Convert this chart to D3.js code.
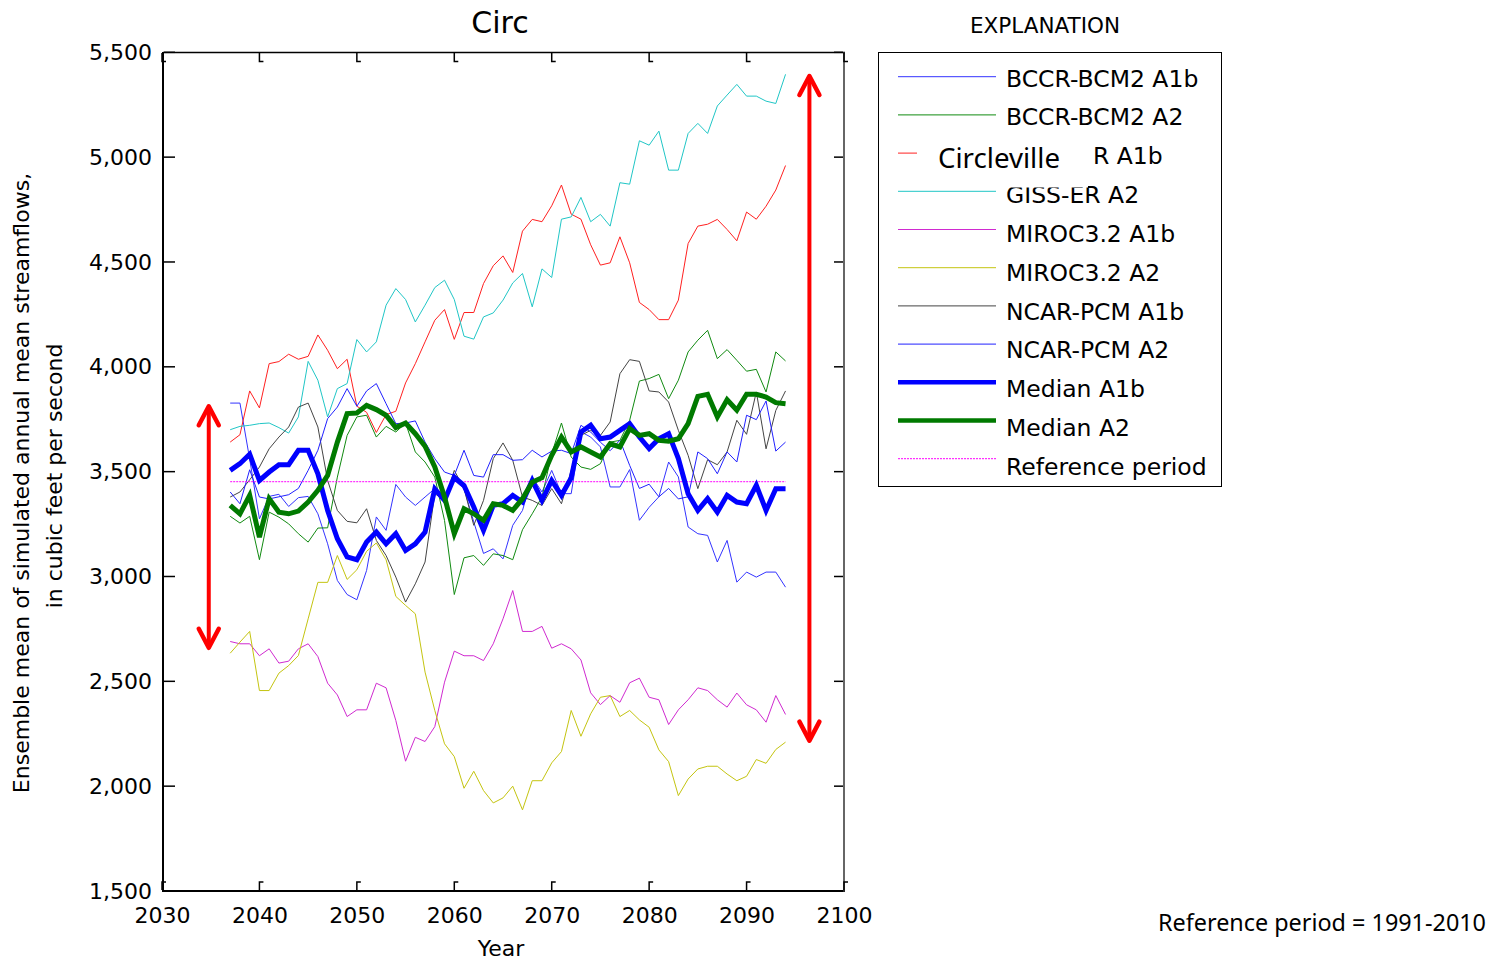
<!DOCTYPE html>
<html>
<head>
<meta charset="UTF-8">
<title>Circ</title>
<style>
  body { margin: 0; background: #fff; }
  svg text { font-family: 'DejaVu Sans', sans-serif; fill: #000; }
</style>
</head>
<body>
<svg id="chart"></svg>
<script src="https://cdn.jsdelivr.net/npm/d3@7/dist/d3.min.js"></script>
<script>
// years of the 20-year moving window, 2037..2094
const years = d3.range(2037, 2095);

const bccrA1b = [3827, 3827, 3560, 3275, 3382, 3392, 3334, 3376, 3382, 3299,
  3156, 2981, 2914, 2889, 3029, 3284, 3220, 3439, 3379, 3339,
  3379, 3419, 3360, 3458, 3420, 3260, 3110, 3132, 3084, 3244,
  3315, 3474, 3403, 3506, 3395, 3395, 3690, 3665, 3618, 3427,
  3427, 3510, 3268, 3330, 3380, 3546, 3475, 3236, 3204, 3196,
  3069, 3172, 2973, 3021, 2997, 3021, 3021, 2949];
const bccrA2 = [3287, 3255, 3287, 3080, 3307, 3283, 3251, 3204, 3164, 3231,
  3232, 3474, 3673, 3761, 3769, 3665, 3716, 3689, 3732, 3594,
  3546, 3474, 3267, 2914, 3089, 3100, 3053, 3108, 3100, 3080,
  3223, 3299, 3379, 3586, 3732, 3570, 3522, 3511, 3538, 3641,
  3649, 3745, 3932, 3944, 3964, 3848, 3936, 4071, 4127, 4174,
  4039, 4082, 4031, 3979, 3988, 3880, 4071, 4028];
const gissA1b = [3641, 3676, 3885, 3804, 4015, 4025, 4060, 4036, 4050, 4152,
  4079, 3991, 4036, 3812, 3783, 3687, 3772, 3788, 3923, 4015,
  4119, 4222, 4273, 4131, 4259, 4259, 4397, 4482, 4529, 4450,
  4647, 4703, 4692, 4768, 4867, 4728, 4704, 4582, 4485, 4496,
  4620, 4496, 4307, 4273, 4225, 4225, 4318, 4588, 4671, 4680,
  4703, 4655, 4601, 4738, 4704, 4766, 4843, 4960];
const gissA2 = [3700, 3716, 3721, 3729, 3732, 3710, 3684, 3761, 4026, 3936,
  3761, 3896, 3920, 4130, 4071, 4119, 4294, 4373, 4321, 4214,
  4294, 4378, 4413, 4321, 4146, 4132, 4238, 4257, 4318, 4400,
  4445, 4286, 4467, 4426, 4704, 4715, 4808, 4692, 4727, 4671,
  4878, 4871, 5078, 5057, 5124, 4938, 4938, 5113, 5161, 5113,
  5244, 5296, 5347, 5291, 5291, 5267, 5256, 5395];
const mirocA1b = [2690, 2679, 2679, 2622, 2655, 2587, 2596, 2655, 2679, 2618,
  2491, 2435, 2332, 2364, 2364, 2491, 2469, 2313, 2119, 2233,
  2213, 2284, 2496, 2644, 2622, 2622, 2599, 2679, 2798, 2933,
  2738, 2738, 2762, 2658, 2679, 2655, 2602, 2445, 2389, 2432,
  2400, 2493, 2515, 2424, 2412, 2294, 2364, 2412, 2469, 2456,
  2412, 2377, 2444, 2388, 2364, 2305, 2432, 2342];
const mirocA2 = [2634, 2687, 2738, 2456, 2456, 2539, 2575, 2623, 2798, 2972,
  2972, 3100, 2986, 3032, 3120, 3160, 3080, 2905, 2862, 2822,
  2544, 2361, 2202, 2141, 1990, 2071, 1979, 1920, 1944, 2000,
  1887, 2026, 2026, 2111, 2165, 2361, 2238, 2345, 2424, 2432,
  2332, 2361, 2316, 2281, 2173, 2117, 1955, 2034, 2082, 2095,
  2095, 2058, 2026, 2047, 2127, 2109, 2175, 2210];
const ncarA1b = [3379, 3403, 3461, 3522, 3609, 3665, 3713, 3808, 3827, 3713,
  3458, 3315, 3263, 3256, 3323, 3172, 3100, 2997, 2878, 2965,
  3069, 3395, 3363, 3506, 3419, 3244, 3363, 3562, 3637, 3554,
  3379, 3363, 3339, 3419, 3347, 3506, 3673, 3697, 3673, 3737,
  3967, 4034, 4026, 3885, 3880, 3832, 3697, 3578, 3419, 3557,
  3533, 3594, 3745, 3678, 3880, 3609, 3792, 3885];
const ncarA2 = [3403, 3347, 3509, 3379, 3370, 3380, 3390, 3420, 3506, 3602,
  3753, 3808, 3896, 3812, 3885, 3920, 3824, 3729, 3732, 3742,
  3641, 3562, 3498, 3482, 3602, 3482, 3474, 3581, 3581, 3554,
  3557, 3602, 3570, 3598, 3602, 3586, 3721, 3689, 3640, 3600,
  3650, 3530, 3420, 3440, 3380, 3420, 3370, 3380, 3594, 3562,
  3490, 3594, 3546, 3769, 3748, 3837, 3598, 3641];
const medianA1b = [3506, 3538, 3583, 3458, 3498, 3533, 3533, 3602, 3602, 3490,
  3315, 3180, 3093, 3080, 3164, 3212, 3156, 3204, 3124, 3156,
  3212, 3418, 3363, 3474, 3434, 3331, 3220, 3339, 3347, 3387,
  3355, 3458, 3363, 3458, 3387, 3470, 3689, 3721, 3657, 3665,
  3697, 3729, 3665, 3610, 3657, 3681, 3562, 3395, 3315, 3371,
  3307, 3387, 3355, 3347, 3435, 3315, 3419, 3419];
const medianA2 = [3339, 3299, 3387, 3188, 3371, 3307, 3299, 3312, 3355, 3411,
  3482, 3641, 3777, 3780, 3816, 3796, 3769, 3710, 3732, 3681,
  3621, 3522, 3379, 3204, 3323, 3299, 3268, 3347, 3339, 3315,
  3371, 3450, 3471, 3578, 3665, 3594, 3618, 3594, 3570, 3633,
  3618, 3705, 3673, 3681, 3649, 3645, 3657, 3729, 3859, 3869,
  3761, 3843, 3793, 3869, 3869, 3856, 3829, 3824];
const referenceMean = 3452;

const legendNames = ['BCCR-BCM2 A1b', 'BCCR-BCM2 A2', 'GISS-ER A1b', 'GISS-ER A2',
  'MIROC3.2 A1b', 'MIROC3.2 A2', 'NCAR-PCM A1b', 'NCAR-PCM A2',
  'Median A1b', 'Median A2', 'Reference period'];

const xTicks = [2030, 2040, 2050, 2060, 2070, 2080, 2090, 2100];
const yTicks = [1500, 2000, 2500, 3000, 3500, 4000, 4500, 5000, 5500];

// red range arrows: [year, top value, bottom value]
const arrows = [[2034.8, 3812, 2660], [2096.45, 5387, 2217]];

const width = 1502;
const height = 962;

const svg = d3.select('#chart')
  .attr('width', width)
  .attr('height', height);

const x = d3.scaleLinear().domain([2030, 2100]).range([162, 844]);
const y = d3.scaleLinear().domain([1500, 5500]).range([891, 52.3]);

const series = [
  { values: bccrA1b, color: '#3333ff', w: 1 },
  { values: bccrA2, color: '#108a10', w: 1 },
  { values: gissA1b, color: '#ff2020', w: 1 },
  { values: gissA2, color: '#20c6c6', w: 1 },
  { values: mirocA1b, color: '#d02ad0', w: 1 },
  { values: mirocA2, color: '#c4c410', w: 1 },
  { values: ncarA1b, color: '#444444', w: 1 },
  { values: ncarA2, color: '#2020ff', w: 1 },
  { values: medianA1b, color: '#0000ff', w: 5 },
  { values: medianA2, color: '#007a00', w: 5 }
];

const line = d3.line()
  .x((d, i) => x(years[i]))
  .y(d => y(d));

// title
svg.append('text')
  .attr('x', 500).attr('y', 33)
  .attr('text-anchor', 'middle')
  .style('font-size', '30px')
  .text('Circ');

// frame
const frame = svg.append('g').attr('fill', 'none').attr('stroke', '#000');
frame.append('line').attr('x1', 163).attr('x2', 163).attr('y1', 52).attr('y2', 892).attr('stroke-width', 2);
frame.append('line').attr('x1', 162).attr('x2', 845).attr('y1', 891).attr('y2', 891).attr('stroke-width', 2);
frame.append('line').attr('x1', 163).attr('x2', 845).attr('y1', 52.5).attr('y2', 52.5).attr('stroke-width', 1.5);
frame.append('line').attr('x1', 844).attr('x2', 844).attr('y1', 52).attr('y2', 892).attr('stroke-width', 1.5).attr('stroke', '#333');

// tick marks with small hooks
const ticks = svg.append('g').attr('fill', 'none').attr('stroke', '#000').attr('stroke-width', 1.5);
xTicks.forEach(t => {
  const px = x(t);
  ticks.append('path').attr('d', `M${px},53V61.5H${px + 4}`);
  ticks.append('path').attr('d', `M${px},890V882H${px + 4}`);
});
yTicks.forEach(t => {
  const py = y(t);
  ticks.append('path').attr('d', `M164,${py}H175`);
  ticks.append('path').attr('d', `M843,${py}H834`);
});

// tick labels
const xAxis = svg.append('g')
  .attr('transform', 'translate(0,891)')
  .call(d3.axisBottom(x).tickValues(xTicks).tickFormat(d3.format('d')).tickSize(0).tickPadding(16));
const yAxis = svg.append('g')
  .attr('transform', 'translate(163,0)')
  .call(d3.axisLeft(y).tickValues(yTicks).tickFormat(d3.format(',')).tickSize(0).tickPadding(11));
[xAxis, yAxis].forEach(a => {
  a.select('.domain').remove();
  a.selectAll('text').style('font-size', '22px').style('font-family', "'DejaVu Sans', sans-serif").attr('fill', '#000');
});

// axis titles
svg.append('text')
  .attr('x', 501).attr('y', 956)
  .attr('text-anchor', 'middle')
  .style('font-size', '22px')
  .text('Year');
svg.append('text')
  .attr('transform', 'translate(29,483) rotate(-90)')
  .attr('text-anchor', 'middle')
  .style('font-size', '22px')
  .text('Ensemble mean of simulated annual mean streamflows,');
svg.append('text')
  .attr('transform', 'translate(62,476) rotate(-90)')
  .attr('text-anchor', 'middle')
  .style('font-size', '22px')
  .text('in cubic feet per second');

// model lines
const plot = svg.append('g').attr('fill', 'none');
series.slice(0, 8).forEach(s => {
  plot.append('path')
    .attr('d', line(s.values))
    .attr('stroke', s.color)
    .attr('stroke-width', s.w);
});

// reference period
plot.append('line')
  .attr('x1', x(years[0])).attr('x2', x(years[years.length - 1]))
  .attr('y1', y(referenceMean)).attr('y2', y(referenceMean))
  .attr('stroke', '#ff00ff')
  .attr('stroke-width', 1)
  .attr('stroke-dasharray', '2,1');

series.slice(8).forEach(s => {
  plot.append('path')
    .attr('d', line(s.values))
    .attr('stroke', s.color)
    .attr('stroke-width', s.w)
    .attr('stroke-linejoin', 'miter');
});

// red double arrows
const arr = svg.append('g')
  .attr('fill', 'none')
  .attr('stroke', '#ff0000')
  .attr('stroke-linecap', 'round')
  .attr('stroke-linejoin', 'round');
arrows.forEach(a => {
  const ax = x(a[0]);
  const yt = y(a[1]);
  const yb = y(a[2]);
  arr.append('line').attr('x1', ax).attr('x2', ax).attr('y1', yt + 2).attr('y2', yb - 2).attr('stroke-width', 4);
  arr.append('path').attr('d', `M${ax - 10},${yt + 19}L${ax},${yt}L${ax + 10},${yt + 19}`).attr('stroke-width', 4.5);
  arr.append('path').attr('d', `M${ax - 10},${yb - 19}L${ax},${yb}L${ax + 10},${yb - 19}`).attr('stroke-width', 4.5);
});

// legend
svg.append('text')
  .attr('x', 1045).attr('y', 33)
  .attr('text-anchor', 'middle')
  .style('font-size', '21.5px')
  .text('EXPLANATION');

const legend = svg.append('g');
legend.append('rect')
  .attr('x', 878.5).attr('y', 52.5)
  .attr('width', 343).attr('height', 434)
  .attr('fill', 'none').attr('stroke', '#000').attr('stroke-width', 1);

legendNames.forEach((name, i) => {
  const ry = 76.7 + i * 38.2;
  const s = series[i];
  const l = legend.append('line')
    .attr('x1', 898).attr('x2', 996)
    .attr('y1', ry).attr('y2', ry)
    .attr('stroke', s ? s.color : '#ff00ff')
    .attr('stroke-width', s ? (s.w > 1 ? 4.5 : 1) : 1);
  if (!s) l.attr('stroke-dasharray', '2,1');
  if (i !== 2) {
    legend.append('text')
      .attr('x', 1006).attr('y', 86.5 + i * 38.85)
      .style('font-size', '23.5px')
      .text(name);
  }
});

// pasted-over label for the third entry
legend.append('rect')
  .attr('x', 917).attr('y', 137)
  .attr('width', 171).attr('height', 50.5)
  .attr('fill', '#fff');
legend.append('text')
  .attr('x', 1093).attr('y', 86.5 + 2 * 38.85)
  .style('font-size', '23.5px')
  .text('R A1b');
legend.append('text')
  .attr('x', 938).attr('y', 168)
  .attr('textLength', 122)
  .attr('lengthAdjust', 'spacingAndGlyphs')
  .style('font-family', "'Noto Sans', sans-serif")
  .style('font-size', '28px')
  .text('Circleville');

svg.append('text')
  .attr('x', 1158).attr('y', 931)
  .attr('textLength', 328)
  .attr('lengthAdjust', 'spacingAndGlyphs')
  .style('font-family', "'Noto Sans', sans-serif")
  .style('font-size', '23px')
  .text('Reference period = 1991-2010');
</script>
</body>
</html>
